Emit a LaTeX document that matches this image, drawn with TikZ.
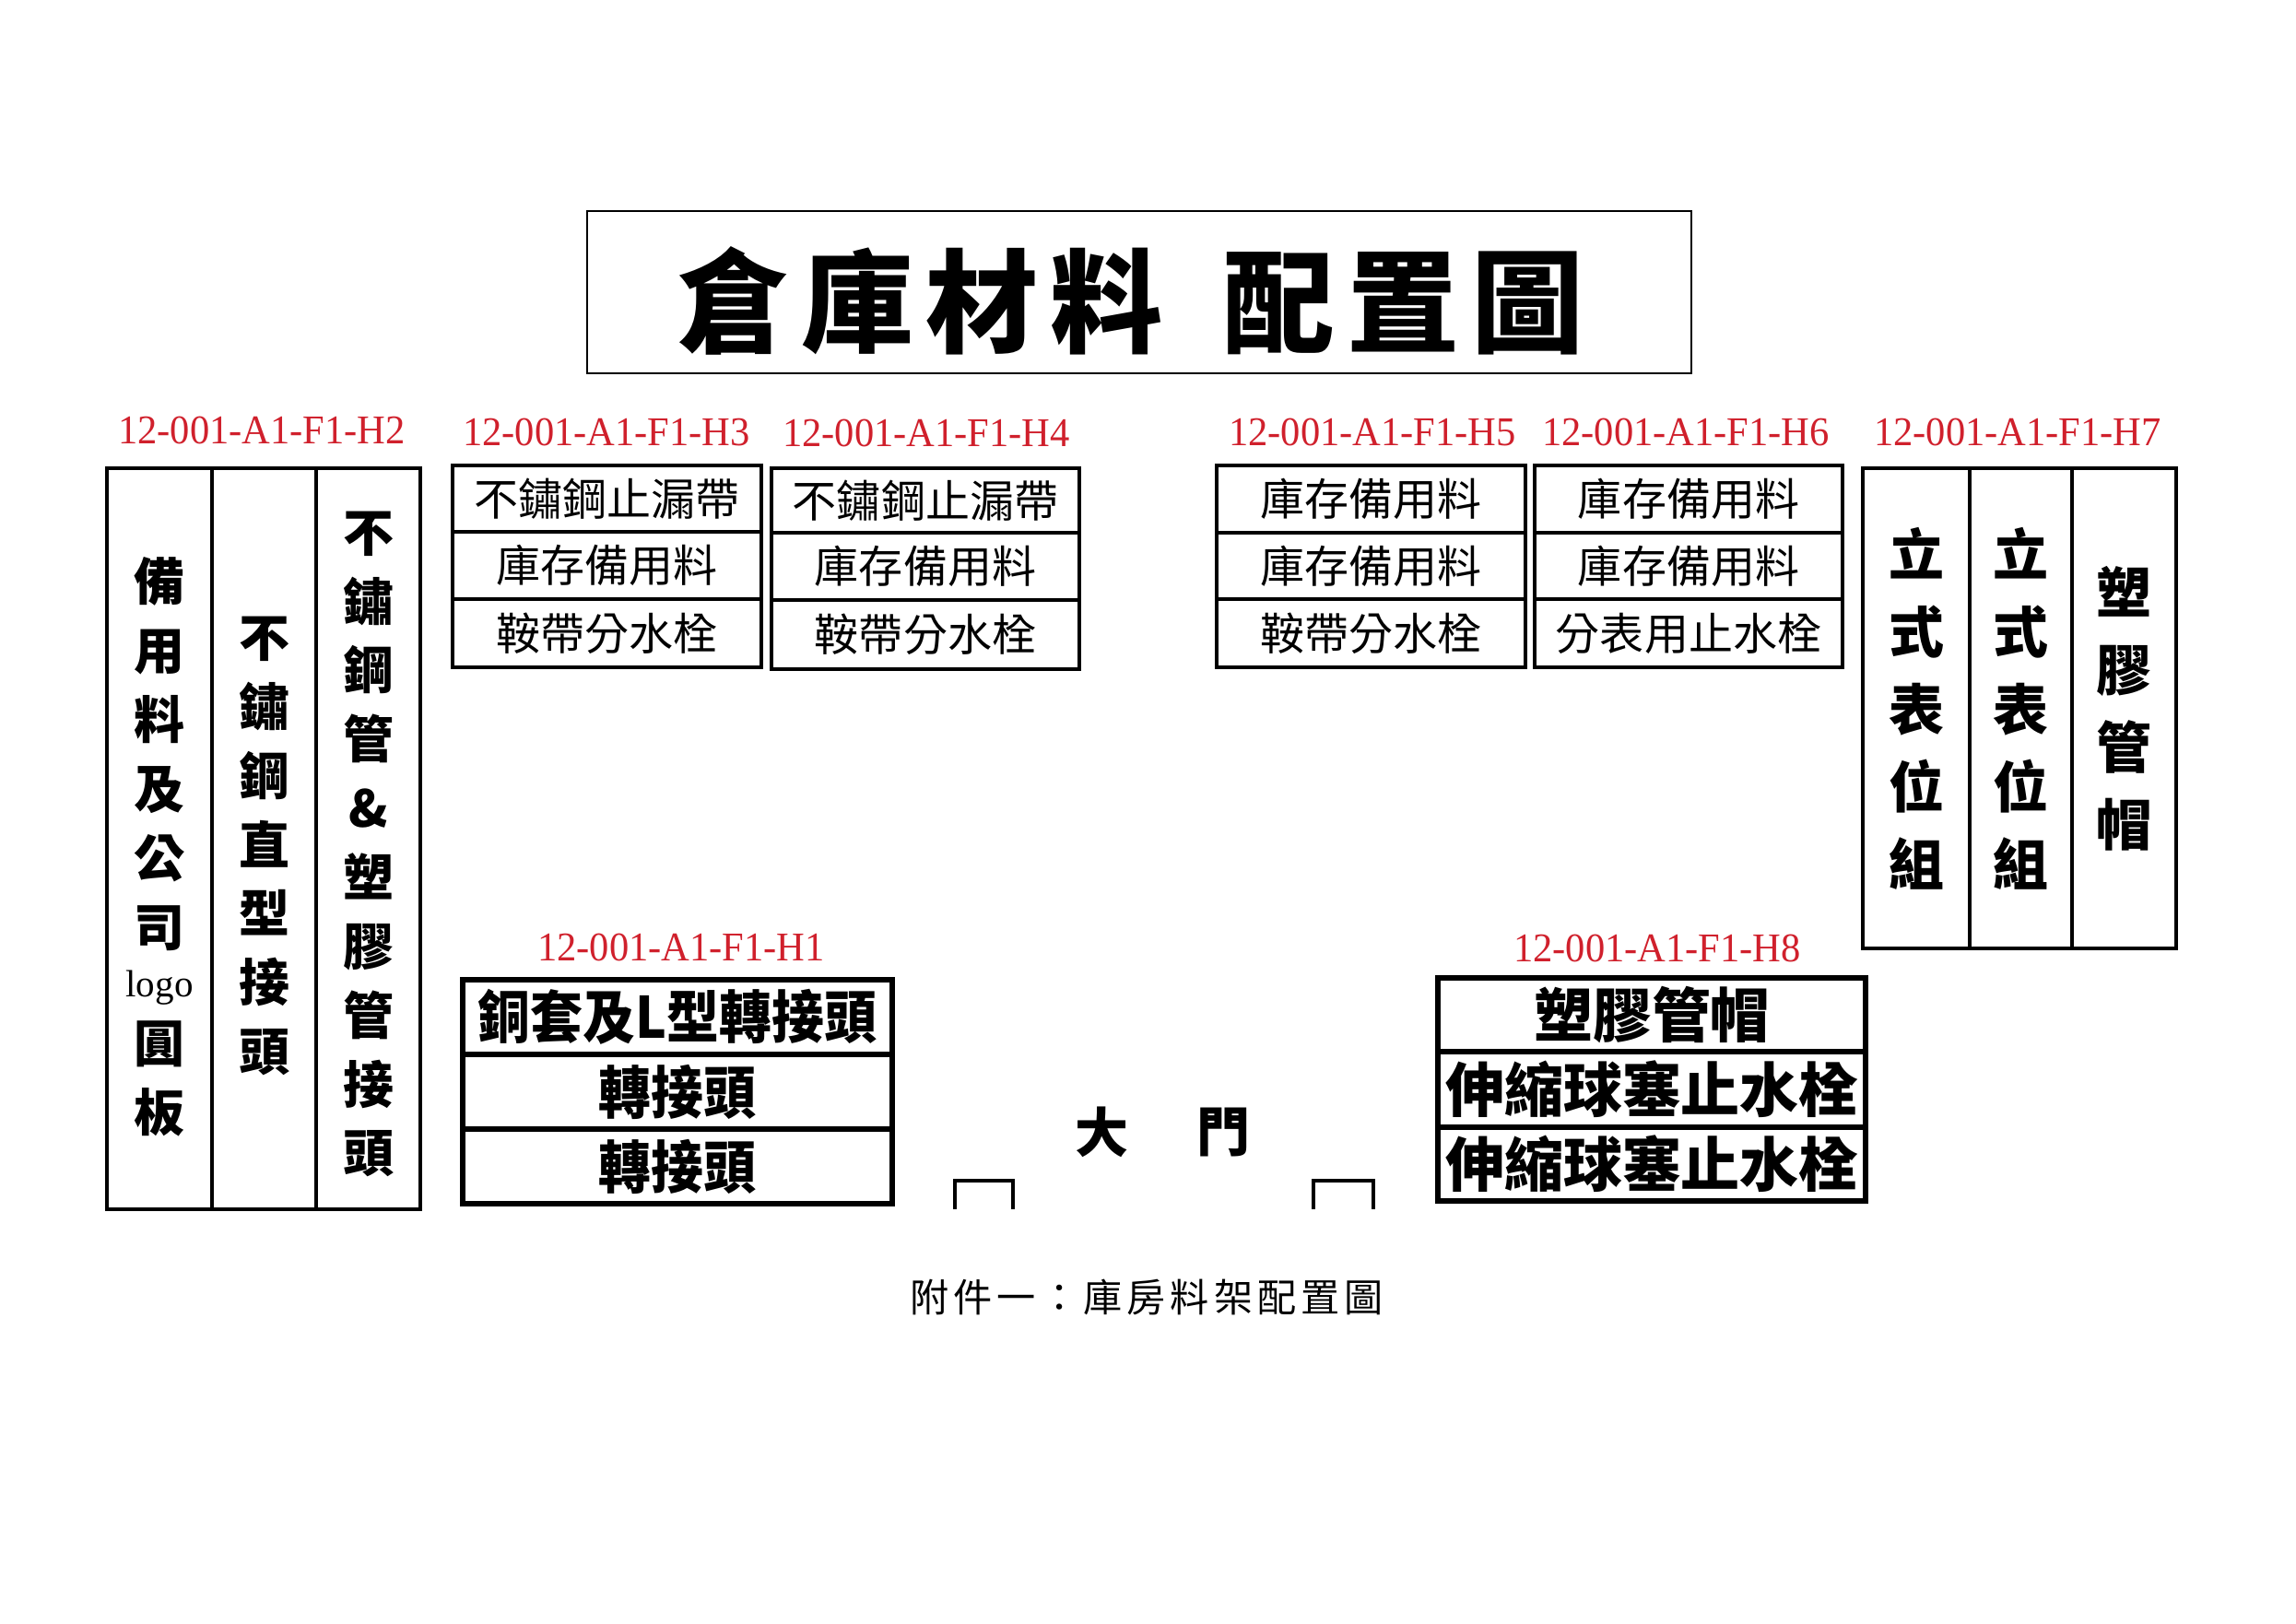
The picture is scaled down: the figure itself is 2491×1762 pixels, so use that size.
\documentclass[tikz,border=0pt]{standalone}
\usepackage{fontspec}
\usepackage{graphicx}
\setmainfont{Liberation Serif}
\newfontfamily\cjk{Noto Sans CJK TC}
\definecolor{labred}{RGB}{208,32,44}
\makeatletter
\def\lsp@end{}
\newcommand\lsp[2]{\def\lsp@sep{\hspace{#1}}\lsp@first#2\lsp@end}
\def\lsp@first#1{\ifx#1\lsp@end\else#1\expandafter\lsp@rest\fi}
\def\lsp@rest#1{\ifx#1\lsp@end\else\lsp@sep#1\expandafter\lsp@rest\fi}
\makeatother
\tikzset{
  x=0.1mm, y=-0.1mm,
  lab/.style={text=labred, inner sep=0pt, font=\fontsize{12.6pt}{14pt}\selectfont},
  row/.style={draw, line width=1.1pt, inner sep=0pt, align=center, font=\cjk\fontsize{13.66pt}{16pt}\selectfont},
  bigrow/.style={draw, line width=1.5pt, inner sep=0pt, align=center, font=\cjk\bfseries\fontsize{17.6pt}{20pt}\selectfont},
  colH2/.style={draw, line width=1.4pt, inner sep=0pt, minimum height=80.4mm},
  txtH2/.style={inner sep=0pt, align=center, font=\cjk\bfseries\fontsize{15.65pt}{21.3pt}\selectfont},
  colH7/.style={draw, line width=1pt, inner sep=0pt, align=center, minimum height=52.1mm, font=\cjk\bfseries\fontsize{17.07pt}{23.9pt}\selectfont},
  gate/.style={inner sep=0pt, font=\cjk\bfseries\fontsize{16.5pt}{18pt}\selectfont},
  doorline/.style={line width=1.4pt}
}
\begin{document}
\begin{tikzpicture}
\fill[white] (0,0) rectangle (2491,1762);
\useasboundingbox (0,0) rectangle (2491,1762);

% title
\node[draw, line width=0.5pt, minimum width=119.8mm, minimum height=17.6mm, inner sep=0pt] (titlebox) at (1236,317) {};
\node[inner sep=0pt, font=\cjk\bfseries\fontsize{34.7pt}{40pt}\selectfont] (title) at (1226.5,326)
  {\lsp{3.7pt}{倉庫材料}\hspace{18.5pt}\lsp{3.7pt}{配置圖}};

% labels
\node[lab] (lH2) at (284,467) {\scalebox{0.96}[1]{12-001-A1-F1-H2}};
\node[lab] (lH3) at (658,469) {\scalebox{0.96}[1]{12-001-A1-F1-H3}};
\node[lab] (lH4) at (1005,470) {\scalebox{0.96}[1]{12-001-A1-F1-H4}};
\node[lab] (lH5) at (1489,469) {\scalebox{0.96}[1]{12-001-A1-F1-H5}};
\node[lab] (lH6) at (1829,469) {\scalebox{0.96}[1]{12-001-A1-F1-H6}};
\node[lab] (lH7) at (2189,469) {\scalebox{0.96}[1]{12-001-A1-F1-H7}};
\node[lab] (lH1) at (739,1028) {\scalebox{0.96}[1]{12-001-A1-F1-H1}};
\node[lab] (lH8) at (1798,1029) {\scalebox{0.96}[1]{12-001-A1-F1-H8}};

% H2 columns
\node[colH2, minimum width=11.4mm] (h2a) at (173,910) {};
\node[colH2, minimum width=11.3mm] (h2b) at (286.5,910) {};
\node[colH2, minimum width=11.3mm] (h2c) at (399.5,910) {};
\node[txtH2] (h2at) at (173,919)
  {備\\用\\料\\及\\公\\司\\[-5.5pt]{\rmfamily\fontsize{11.7pt}{21.3pt}\selectfont\mdseries logo}\\[-1pt]圓\\板};
\node[txtH2] (h2bt) at (286.5,918) {不\\鏽\\鋼\\直\\型\\接\\頭};
\node[txtH2] (h2ct) at (399.5,916) {不\\鏽\\鋼\\管\\\&\\塑\\膠\\管\\接\\頭};

% H3
\node[row, minimum width=33.5mm, minimum height=7.2mm] (h3a) at (658.5,541) {不鏽鋼止漏帶};
\node[row, minimum width=33.5mm, minimum height=7.3mm] (h3b) at (658.5,613.5) {庫存備用料};
\node[row, minimum width=33.5mm, minimum height=7.4mm] (h3c) at (658.5,687) {鞍帶分水栓};

% H4
\node[row, minimum width=33.4mm, minimum height=7.0mm] (h4a) at (1004,543) {不鏽鋼止漏帶};
\node[row, minimum width=33.4mm, minimum height=7.3mm] (h4b) at (1004,614.5) {庫存備用料};
\node[row, minimum width=33.4mm, minimum height=7.5mm] (h4c) at (1004,688.5) {鞍帶分水栓};

% H5
\node[row, minimum width=33.5mm, minimum height=7.3mm] (h5a) at (1487.5,541.5) {庫存備用料};
\node[row, minimum width=33.5mm, minimum height=7.2mm] (h5b) at (1487.5,614) {庫存備用料};
\node[row, minimum width=33.5mm, minimum height=7.4mm] (h5c) at (1487.5,687) {鞍帶分水栓};

% H6
\node[row, minimum width=33.4mm, minimum height=7.3mm] (h6a) at (1832,541.5) {庫存備用料};
\node[row, minimum width=33.4mm, minimum height=7.2mm] (h6b) at (1832,614) {庫存備用料};
\node[row, minimum width=33.4mm, minimum height=7.4mm] (h6c) at (1832,687) {分表用止水栓};

% H7 columns
\node[colH7, minimum width=11.6mm] (h7a) at (2079,768.5) {立\\式\\表\\位\\組};
\node[colH7, minimum width=11.1mm] (h7b) at (2192.5,768.5) {立\\式\\表\\位\\組};
\node[colH7, minimum width=11.3mm] (h7c) at (2304.5,768.5) {塑\\膠\\管\\帽};

% H1
\node[bigrow, minimum width=46.6mm, minimum height=8.1mm] (h1a) at (735,1103.5) {\scalebox{0.92}[1]{銅套及L型轉接頭}};
\node[bigrow, minimum width=46.6mm, minimum height=8.1mm] (h1b) at (735,1184.5) {\scalebox{0.92}[1]{轉接頭}};
\node[bigrow, minimum width=46.6mm, minimum height=8.1mm] (h1c) at (735,1265.5) {\scalebox{0.92}[1]{轉接頭}};

% H8
\node[bigrow, minimum width=46.4mm, minimum height=8.0mm, font=\cjk\bfseries\fontsize{18.2pt}{20pt}\selectfont] (h8a) at (1792,1101) {塑膠管帽};
\node[bigrow, minimum width=46.4mm, minimum height=8.2mm, font=\cjk\bfseries\fontsize{18.2pt}{20pt}\selectfont] (h8b) at (1792,1182) {伸縮球塞止水栓};
\node[bigrow, minimum width=46.4mm, minimum height=8.0mm, font=\cjk\bfseries\fontsize{18.2pt}{20pt}\selectfont] (h8c) at (1792,1263) {伸縮球塞止水栓};

% gate
\node[gate] (gate1) at (1195,1228) {大};
\node[gate] (gate2) at (1327,1228) {門};
\draw[doorline] (1036,1312) -- (1036,1281) -- (1099,1281) -- (1099,1312);
\draw[doorline] (1425,1312) -- (1425,1281) -- (1490,1281) -- (1490,1312);

% caption
\node[inner sep=0pt, font=\cjk\fontsize{12pt}{14pt}\selectfont] (caption) at (1244,1408) {\lsp{1.4pt}{附件一：庫房料架配置圖}};
\end{tikzpicture}
\end{document}
